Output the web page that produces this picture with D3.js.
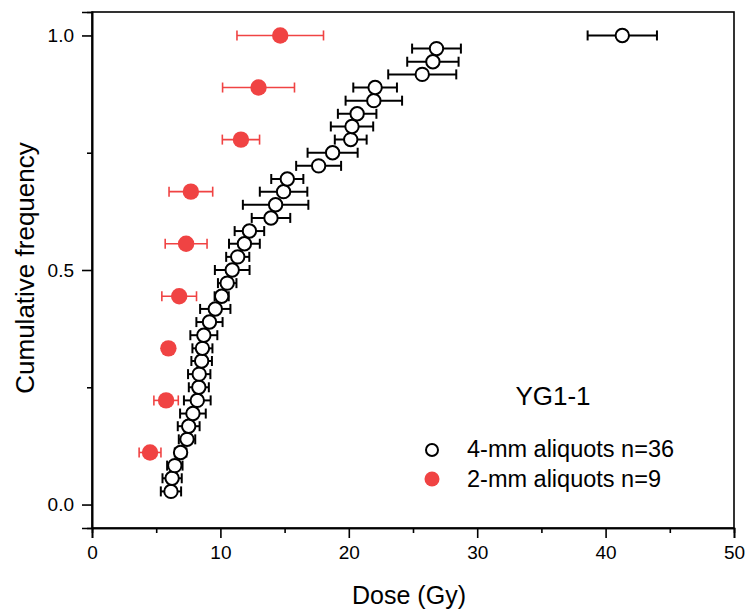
<!DOCTYPE html>
<html>
<head>
<meta charset="utf-8">
<script src="https://cdn.jsdelivr.net/npm/d3@7"></script>
<style>
  html, body { margin: 0; padding: 0; background: #fff; }
  svg { display: block; font-family: "Liberation Sans", Arial, sans-serif; }
</style>
</head>
<body>
<svg id="chart" width="748" height="609"></svg>
<script>
// ---- data ----
const dose4 = [6.15, 6.24, 6.45, 6.90, 7.40, 7.53, 7.86, 8.20, 8.32, 8.35, 8.54, 8.60,
               8.71, 9.15, 9.60, 10.10, 10.53, 10.92, 11.35, 11.87, 12.26, 13.94, 14.30, 14.92,
               15.21, 17.65, 18.74, 20.15, 20.25, 20.65, 21.95, 22.05, 25.72, 26.55, 26.83, 41.30];
const freq4 = [0.028, 0.056, 0.083, 0.111, 0.139, 0.167, 0.194, 0.222, 0.250, 0.278, 0.306, 0.333,
               0.361, 0.389, 0.417, 0.444, 0.472, 0.500, 0.528, 0.556, 0.583, 0.611, 0.639, 0.667,
               0.694, 0.722, 0.750, 0.778, 0.806, 0.833, 0.861, 0.889, 0.917, 0.944, 0.972, 1.000];
const err4  = [0.79, 0.75, 0.60, 0.45, 0.64, 0.85, 1.00, 1.04, 0.78, 0.87, 0.80, 0.78,
               1.05, 1.02, 1.18, 0.55, 0.72, 1.35, 0.90, 1.20, 1.15, 1.50, 2.55, 1.85,
               1.25, 1.75, 1.95, 1.24, 1.65, 1.50, 2.20, 1.70, 2.65, 2.00, 1.90, 2.70];

const dose2 = [4.52, 5.77, 5.95, 6.79, 7.33, 7.70, 11.60, 12.97, 14.66];
const freq2 = [0.111, 0.222, 0.333, 0.444, 0.556, 0.667, 0.778, 0.889, 1.000];
const err2  = [0.85, 0.95, 0, 1.35, 1.63, 1.70, 1.45, 2.80, 3.37];

const xTicks = [0, 10, 20, 30, 40, 50];
const xMinor = [5, 15, 25, 35, 45];
const yTicks = [0, 0.5, 1.0];
const yMinor = [0.25, 0.75];

const sampleName = "YG1-1";
const legendLabels = ["4-mm aliquots n=36", "2-mm aliquots n=9"];
const xTitle = "Dose (Gy)";
const yTitle = "Cumulative frequency";

// ---- layout ----
const L = 92, R = 734, T = 12, B = 528;
const red = "#f04343";

const svg = d3.select("#chart");
const x = d3.scaleLinear().domain([0, 50]).range([L, R]);
const y = d3.scaleLinear().domain([-0.05, 1.05]).range([B, T]);

// frame
svg.append("rect")
  .attr("x", L).attr("y", T).attr("width", R - L).attr("height", B - T)
  .attr("fill", "none").attr("stroke", "#000").attr("stroke-width", 1.6);

// axes
const xAxis = svg.append("g").attr("transform", `translate(0,${B})`)
  .call(d3.axisBottom(x).tickValues(xTicks).tickFormat(d3.format("d")).tickSize(10).tickPadding(8));
const xAxisMinor = svg.append("g").attr("transform", `translate(0,${B})`)
  .call(d3.axisBottom(x).tickValues(xMinor).tickFormat("").tickSize(5));
const yAxis = svg.append("g").attr("transform", `translate(${L},0)`)
  .call(d3.axisLeft(y).tickValues(yTicks).tickFormat(d3.format(".1f")).tickSize(10).tickPadding(8));
const yAxisMinor = svg.append("g").attr("transform", `translate(${L},0)`)
  .call(d3.axisLeft(y).tickValues(yMinor).tickFormat("").tickSize(5));

[xAxis, xAxisMinor, yAxis, yAxisMinor].forEach(g => {
  g.select(".domain").attr("stroke", "#000").attr("stroke-width", 1.6);
  g.selectAll(".tick line").attr("stroke", "#000").attr("stroke-width", 1.6);
  g.selectAll(".tick text").attr("fill", "#000")
    .style("font-family", '"Liberation Sans", Arial, sans-serif')
    .style("font-size", "19px");
});

// titles
svg.append("text")
  .attr("x", 409).attr("y", 604)
  .attr("text-anchor", "middle").attr("font-size", 25).attr("fill", "#000")
  .text(xTitle);
svg.append("text")
  .attr("transform", `translate(34,${(y(0) + y(1)) / 2 - 2}) rotate(-90)`)
  .attr("text-anchor", "middle").attr("font-size", 26).attr("fill", "#000")
  .text(yTitle);

// ---- series ----
const d4 = dose4.map((d, i) => ({ x: d, y: freq4[i], e: err4[i] }));
const d2 = dose2.map((d, i) => ({ x: d, y: freq2[i], e: err2[i] }));

function errorBars(data, color, sw) {
  const g = svg.append("g").attr("stroke", color).attr("stroke-width", sw).attr("fill", "none");
  data.filter(d => d.e > 0).forEach(d => {
    const cy = y(d.y), x0 = x(d.x - d.e), x1 = x(d.x + d.e);
    g.append("line").attr("x1", x0).attr("x2", x1).attr("y1", cy).attr("y2", cy);
    g.append("line").attr("x1", x0).attr("x2", x0).attr("y1", cy - 5).attr("y2", cy + 5);
    g.append("line").attr("x1", x1).attr("x2", x1).attr("y1", cy - 5).attr("y2", cy + 5);
  });
}

errorBars(d2, red, 1.6);
svg.append("g").selectAll("circle").data(d2).join("circle")
  .attr("cx", d => x(d.x)).attr("cy", d => y(d.y)).attr("r", 8.2)
  .attr("fill", red);

errorBars(d4, "#000", 2);
svg.append("g").selectAll("circle").data(d4).join("circle")
  .attr("cx", d => x(d.x)).attr("cy", d => y(d.y)).attr("r", 6.7)
  .attr("fill", "#fff").attr("stroke", "#000").attr("stroke-width", 2);

// ---- legend ----
svg.append("text")
  .attr("x", 553).attr("y", 405).attr("text-anchor", "middle")
  .attr("font-size", 26).attr("fill", "#000").text(sampleName);

const lg = svg.append("g");
lg.append("circle").attr("cx", 432).attr("cy", 450).attr("r", 6)
  .attr("fill", "#fff").attr("stroke", "#000").attr("stroke-width", 2);
lg.append("circle").attr("cx", 432).attr("cy", 479).attr("r", 7.5).attr("fill", red);
lg.selectAll("text").data(legendLabels).join("text")
  .attr("x", 467).attr("y", (d, i) => 457 + i * 29.5)
  .attr("font-size", 23.5).attr("fill", "#000").text(d => d);
</script>
</body>
</html>
